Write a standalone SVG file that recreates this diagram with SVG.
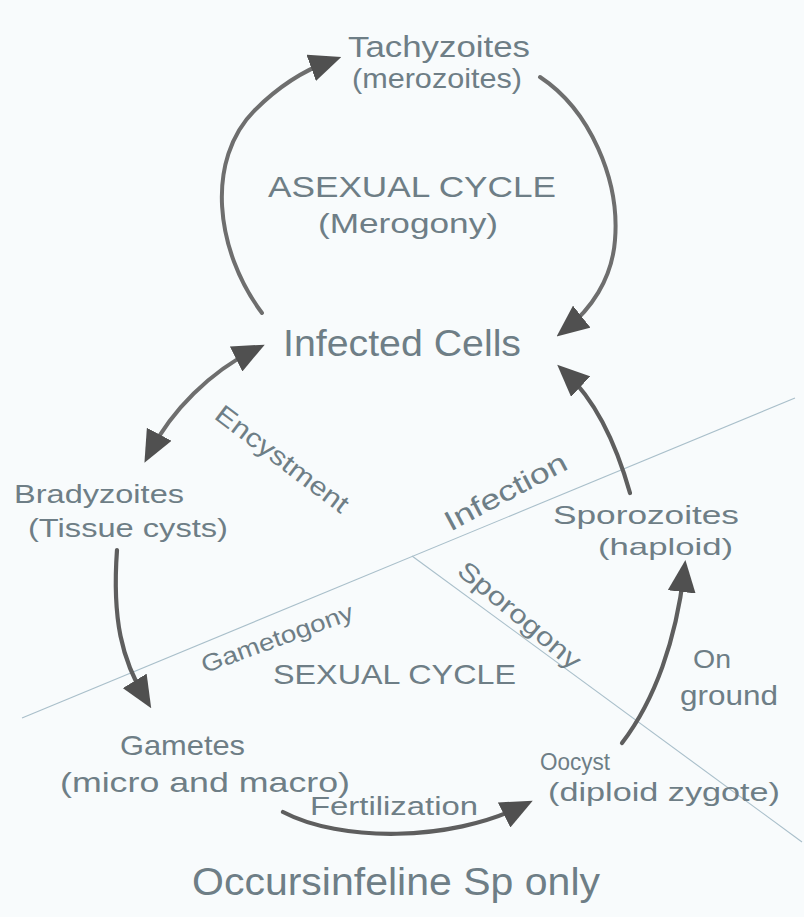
<svg xmlns="http://www.w3.org/2000/svg" width="804" height="917" viewBox="0 0 804 917">
<defs>
<style>
.t{font-family:"Liberation Sans","DejaVu Sans",sans-serif;fill:#6e7e86}
.div{stroke:#a9bfca;stroke-width:1.1;fill:none}
.arr{stroke:#5e5e5e;stroke-width:4.2;fill:none;stroke-linecap:round}
.arr2{stroke:#6e6e6e;stroke-width:4;fill:none;stroke-linecap:round}
</style>
<marker id="head" viewBox="0 0 32 28" markerUnits="userSpaceOnUse" markerWidth="32" markerHeight="28" refX="20" refY="14" orient="auto-start-reverse">
<path d="M0,0 L32,14 L0,28 Z" fill="#505050"/>
</marker>
</defs>
<rect width="804" height="917" fill="#f8fbfc"/>

<g id="dividers">
<line class="div" x1="22" y1="718" x2="795" y2="398"/>
<line class="div" x1="412" y1="556" x2="802" y2="842"/>
</g>

<g id="connectors">
<path class="arr2" d="M262,313 C215,250 205,160 255,110 C280,85 305,70 330,61" marker-end="url(#head)"/>
<path class="arr2" d="M540,77 C590,110 620,180 615,240 C612,280 590,310 566,329" marker-end="url(#head)"/>
<path class="arr" d="M630,493 C615,440 595,400 566,373" marker-end="url(#head)"/>
<path class="arr2" d="M254,350 C210,372 172,410 150,452" marker-start="url(#head)" marker-end="url(#head)"/>
<path class="arr" d="M117,550 C112,620 122,660 145,698" marker-end="url(#head)"/>
<path class="arr" d="M283,812 C340,842 450,842 522,806" marker-end="url(#head)"/>
<path class="arr" d="M622,743 C655,700 676,640 684,572" marker-end="url(#head)"/>
</g>

<g id="tachyzoites">
<text class="t" x="348" y="57" font-size="30" textLength="182" lengthAdjust="spacingAndGlyphs">Tachyzoites</text>
<text class="t" x="352" y="88" font-size="28" textLength="170" lengthAdjust="spacingAndGlyphs">(merozoites)</text>
</g>

<g id="asexual-cycle">
<text class="t" x="268" y="197" font-size="30" textLength="288" lengthAdjust="spacingAndGlyphs">ASEXUAL CYCLE</text>
<text class="t" x="318" y="233" font-size="28" textLength="180" lengthAdjust="spacingAndGlyphs">(Merogony)</text>
</g>

<g id="infected-cells">
<text class="t" x="283" y="356" font-size="36" textLength="238" lengthAdjust="spacingAndGlyphs">Infected Cells</text>
</g>

<g id="bradyzoites">
<text class="t" x="14" y="503" font-size="26" textLength="170" lengthAdjust="spacingAndGlyphs">Bradyzoites</text>
<text class="t" x="28" y="537" font-size="26" textLength="200" lengthAdjust="spacingAndGlyphs">(Tissue cysts)</text>
</g>

<g id="sporozoites">
<text class="t" x="553" y="524" font-size="26" textLength="186" lengthAdjust="spacingAndGlyphs">Sporozoites</text>
<text class="t" x="598" y="555" font-size="24" textLength="135" lengthAdjust="spacingAndGlyphs">(haploid)</text>
</g>

<g id="sexual-cycle">
<text class="t" x="273" y="684" font-size="28" textLength="243" lengthAdjust="spacingAndGlyphs">SEXUAL CYCLE</text>
</g>

<g id="gametes">
<text class="t" x="120" y="755" font-size="28" textLength="125" lengthAdjust="spacingAndGlyphs">Gametes</text>
<text class="t" x="60" y="792" font-size="28" textLength="290" lengthAdjust="spacingAndGlyphs">(micro and macro)</text>
</g>

<g id="oocyst">
<text class="t" x="540" y="770" font-size="24" textLength="70" lengthAdjust="spacingAndGlyphs">Oocyst</text>
<text class="t" x="548" y="801" font-size="26" textLength="232" lengthAdjust="spacingAndGlyphs">(diploid zygote)</text>
</g>

<g id="labels">
<text class="t" font-size="26" text-anchor="middle" transform="translate(277,466) rotate(37)" textLength="160" lengthAdjust="spacingAndGlyphs">Encystment</text>
<text class="t" font-size="28" text-anchor="middle" transform="translate(510,500) rotate(-28)" textLength="135" lengthAdjust="spacingAndGlyphs">Infection</text>
<text class="t" font-size="26" text-anchor="middle" transform="translate(514,622) rotate(40)" textLength="152" lengthAdjust="spacingAndGlyphs">Sporogony</text>
<text class="t" font-size="24" text-anchor="middle" transform="translate(280,646) rotate(-20)" textLength="160" lengthAdjust="spacingAndGlyphs">Gametogony</text>
<text class="t" x="693" y="668" font-size="26" textLength="38" lengthAdjust="spacingAndGlyphs">On</text>
<text class="t" x="680" y="705" font-size="28" textLength="98" lengthAdjust="spacingAndGlyphs">ground</text>
<text class="t" x="310" y="815" font-size="26" textLength="168" lengthAdjust="spacingAndGlyphs">Fertilization</text>
</g>

<g id="footnote">
<text class="t" x="192" y="895" font-size="38" textLength="408" lengthAdjust="spacingAndGlyphs">Occursinfeline Sp only</text>
</g>
</svg>
